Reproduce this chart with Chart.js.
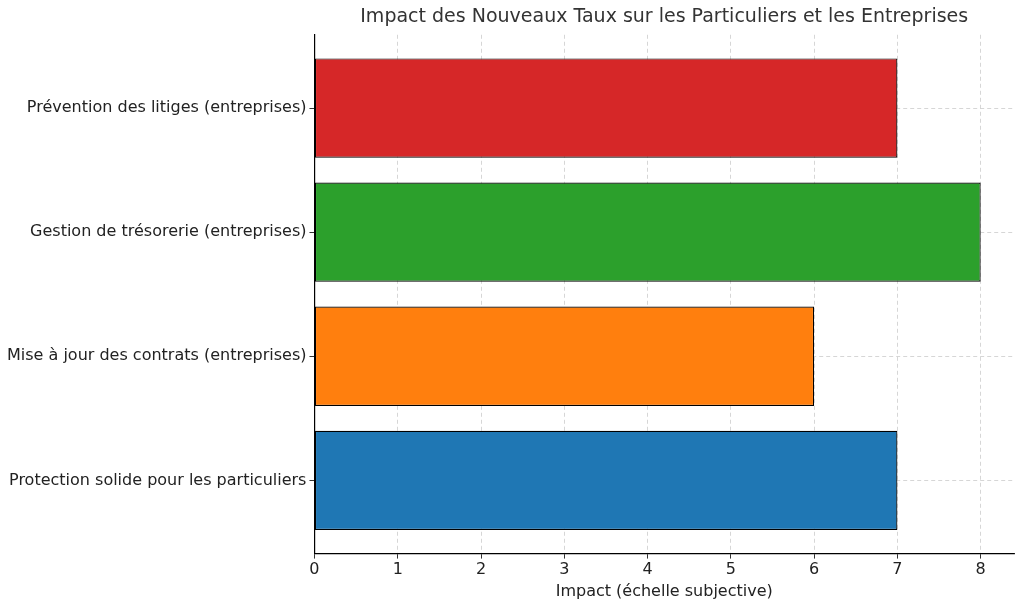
<!DOCTYPE html>
<html><head><meta charset="utf-8">
<script src="https://cdn.jsdelivr.net/npm/chart.js@4"></script>
<style>html,body{margin:0;background:#fff}#w{width:1024px;height:611px}</style>
</head><body><div id="w"><canvas id="c"></canvas></div>
<script>
const categories = ["Protection solide pour les particuliers","Mise à jour des contrats (entreprises)","Gestion de trésorerie (entreprises)","Prévention des litiges (entreprises)"];
const values = [7, 6, 8, 7];
const colors = ["#1f77b4","#ff7f0e","#2ca02c","#d62728"];
const xTicks = [0,1,2,3,4,5,6,7,8];
const grid = {color:'#cccccc', lineWidth:0.8, offset:false, tickColor:'#000', tickLength:5};
new Chart(document.getElementById('c'), {
  type:'bar',
  data:{datasets:[{data:values.map((v,i)=>({x:v,y:i})),backgroundColor:colors,borderColor:'#000',borderWidth:1.2,borderSkipped:false,barPercentage:0.8,categoryPercentage:1}]},
  options:{
    indexAxis:'y', responsive:true, maintainAspectRatio:false, animation:false,
    layout:{padding:{left:4,right:10,top:0,bottom:6}},
    plugins:{legend:{display:false},tooltip:{enabled:false},
      title:{display:true,fullSize:false,text:'Impact des Nouveaux Taux sur les Particuliers et les Entreprises',color:'#333',font:{family:'DejaVu Sans',size:19,weight:'normal'},padding:{top:6,bottom:6}}},
    scales:{
      x:{type:'linear',min:0,max:8.4,offset:false,afterBuildTicks:s=>{s.ticks=xTicks.map(v=>({value:v}))},
        grid:grid,border:{color:'#000',width:1.2,dash:[4,3]},
        ticks:{color:'#222',font:{family:'DejaVu Sans',size:16},padding:2},
        title:{display:true,text:'Impact (échelle subjective)',color:'#222',font:{family:'DejaVu Sans',size:16},padding:{top:0}}},
      y:{type:'linear',min:-0.59,max:3.59,offset:false,afterBuildTicks:s=>{s.ticks=categories.map((c,i)=>({value:i}))},
        grid:grid,border:{color:'#000',width:1.2,dash:[4,3]},
        ticks:{color:'#222',font:{family:'DejaVu Sans',size:16},callback:v=>categories[v]}}
    }
  }
});
</script></body></html>
